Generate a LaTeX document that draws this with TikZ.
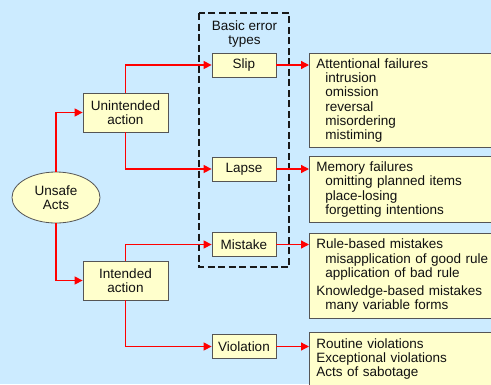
\documentclass[tikz,border=0pt]{standalone}
\usepackage{fontspec}
\setmainfont{Liberation Sans}
\usetikzlibrary{arrows.meta,shapes.geometric}
\definecolor{bg}{HTML}{CCEBFF}
\definecolor{boxfill}{HTML}{FFFFCC}
\definecolor{boxline}{HTML}{555555}
\definecolor{txt}{HTML}{111111}
\begin{document}
\begin{tikzpicture}[x=1pt,y=-1pt,font=\fontsize{13.5}{14.3}\selectfont,text=txt,
  box/.style={draw=boxline,fill=boxfill,line width=0.8pt,inner sep=0pt,align=center},
  etype/.style={box,minimum width=64pt,minimum height=24pt},
  rbox/.style={draw=boxline,fill=boxfill,line width=0.8pt,align=left,inner xsep=7pt,inner ysep=0pt,anchor=north west,text width=200pt},
  conn/.style={draw=red,line width=1.3pt,-{Triangle[length=8pt,width=8pt]}},
  dashbox/.style={draw=black!90,line width=1.6pt,dash pattern=on 7pt off 3.5pt}]
\useasboundingbox (0,0) rectangle (491,384);
\fill[bg] (0,0) rectangle (491,384);
\clip (0,0) rectangle (491,384);

% dashed group
\draw[dashbox] (199,13) rectangle (289,267);
\node[align=center] (title) at (244.5,34) {Basic error\\types};

% left nodes
\node[box,ellipse,minimum width=88pt,minimum height=51pt] (unsafe) at (56,197.5) {Unsafe\\Acts};
\node[box,minimum width=85pt,minimum height=39pt] (unint) at (125.5,112.5) {Unintended\\action};
\node[box,minimum width=85pt,minimum height=39pt] (int) at (125.5,280.5) {Intended\\action};

% error types
\node[etype] (slip) at (244,65) {Slip};
\node[etype] (lapse) at (244,169) {Lapse};
\node[etype] (mistake) at (244,244.5) {Mistake};
\node[etype] (viol) at (244,346.5) {Violation};

% right boxes
\node[rbox,minimum height=94pt] (att) at (309,53) {Attentional failures\\
\hspace*{9pt}intrusion\\
\hspace*{9pt}omission\\
\hspace*{9pt}reversal\\
\hspace*{9pt}misordering\\
\hspace*{9pt}mistiming};
\node[rbox,minimum height=66pt] (mem) at (309,156) {Memory failures\\
\hspace*{9pt}omitting planned items\\
\hspace*{9pt}place-losing\\
\hspace*{9pt}forgetting intentions};
\node[rbox,minimum height=85pt] (rule) at (309,233) {Rule-based mistakes\\
\hspace*{9pt}misapplication of good rule\\
\hspace*{9pt}application of bad rule\\[4pt]
Knowledge-based mistakes\\
\hspace*{9pt}many variable forms};
\node[rbox,minimum height=53pt] (rout) at (309,332) {Routine violations\\
Exceptional violations\\
Acts of sabotage};

% connectors
\draw[conn] (unsafe.north) |- (unint.west);
\draw[conn] (unsafe.south) |- (int.west);
\draw[conn] (unint.north) |- (slip.west);
\draw[conn] (unint.south) |- (lapse.west);
\draw[conn] (int.north) |- (mistake.west);
\draw[conn] (int.south) |- (viol.west);
\draw[conn] (slip.east) -- (slip.east -| att.west);
\draw[conn] (lapse.east) -- (lapse.east -| mem.west);
\draw[conn] (mistake.east) -- (mistake.east -| rule.west);
\draw[conn] (viol.east) -- (viol.east -| rout.west);
\end{tikzpicture}
\end{document}
